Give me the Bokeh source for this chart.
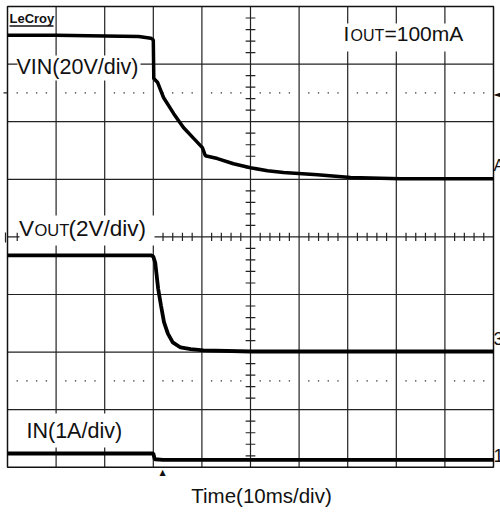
import numpy as np
from bokeh.plotting import figure
from bokeh.models import Range1d, Label
from bokeh.embed import file_html
from bokeh.resources import INLINE

# ---- data (x in divisions of 10 ms, y in divisions) ----
vin_x = [0, 1.0, 2.0, 2.7, 2.95, 3.0, 3.01, 3.09, 3.21, 3.42, 3.62, 3.83, 4.01, 4.07, 4.32, 4.65, 5.0, 5.35, 5.68, 6.38, 7.06, 8.09, 9.12, 10.0]
vin_y = [7.50, 7.50, 7.49, 7.48, 7.45, 7.42, 6.75, 6.68, 6.42, 6.14, 5.90, 5.71, 5.55, 5.41, 5.36, 5.27, 5.20, 5.15, 5.12, 5.08, 5.03, 5.01, 5.01, 5.01]

vout_x = [0, 1.5, 2.95, 3.0, 3.04, 3.10, 3.16, 3.22, 3.30, 3.40, 3.56, 3.77, 4.03, 5.0, 10.0]
vout_y = [3.68, 3.68, 3.68, 3.66, 3.55, 3.10, 2.80, 2.52, 2.32, 2.17, 2.08, 2.05, 2.03, 2.01, 2.01]

iin_x = [0, 1.5, 3.0, 3.03, 3.2, 6.0, 10.0]
iin_y = [0.24, 0.24, 0.24, 0.14, 0.13, 0.13, 0.13]

x_divs = list(range(11))
y_divs = list(range(9))
dotted_rows = [6.5, 1.5]

W, H = 500, 515
SX, SY = 48.6, 57.6          # pixels per division
OX, OY = 7.0, 6.0            # canvas position of the graticule's top-left corner

# reference pixel -> data helpers (for annotation placement)
def X(px):
    return (px - OX) / SX

def Y(py):
    return 8 - (py - OY) / SY

p = figure(width=W, height=H,
           x_range=Range1d(X(0), X(W)),
           y_range=Range1d(Y(H), Y(0)),
           output_backend="svg", toolbar_location=None,
           x_axis_location=None, y_axis_location=None,
           min_border_left=0, min_border_right=0, min_border_top=0, min_border_bottom=0)
p.grid.visible = False
p.outline_line_color = None
p.background_fill_color = "white"
p.border_fill_color = "white"

gc = "#222222"
# grid
inner_x = x_divs[1:-1]
inner_y = y_divs[1:-1]
p.segment(x0=inner_x, y0=[0] * len(inner_x), x1=inner_x, y1=[8] * len(inner_x), line_color=gc, line_width=1.2)
p.segment(x0=[0] * len(inner_y), y0=inner_y, x1=[10] * len(inner_y), y1=inner_y, line_color=gc, line_width=1.2)
p.quad(left=[x_divs[0]], right=[x_divs[-1]], bottom=[y_divs[0]], top=[y_divs[-1]],
       fill_color=None, line_color="#111111", line_width=1.5)

# centre-line minor ticks
ty = np.arange(0.2, 8.0, 0.2)
ty = ty[np.abs(ty - np.round(ty)) > 0.05]
p.segment(x0=5 - 0.1, y0=ty, x1=5 + 0.1, y1=ty, line_color=gc, line_width=1.2)
tx = np.arange(0.2, 10.0, 0.2)
tx = tx[np.abs(tx - np.round(tx)) > 0.05]
p.segment(x0=tx, y0=4 - 0.07, x1=tx, y1=4 + 0.07, line_color=gc, line_width=1.2)

# dotted rows
for r in dotted_rows:
    p.scatter(x=tx, y=[r] * len(tx), size=1.6, color="#555555", line_color=None)

# small marks left of the graticule
p.segment(x0=[X(3)], y0=[dotted_rows[0]], x1=[0], y1=[dotted_rows[0]], line_color=gc, line_width=1.2)
p.segment(x0=[X(5)], y0=[Y(232)], x1=[X(5)], y1=[Y(242)], line_color=gc, line_width=1.2)

# white label boxes
p.quad(left=[X(17), X(19), X(340), X(25)], right=[X(140), X(154), X(465), X(125)],
       top=[Y(55), Y(215), Y(23), Y(413)], bottom=[Y(80), Y(245), Y(51), Y(447)],
       fill_color="white", line_color=None)

# traces
p.line(vin_x, vin_y, line_color="black", line_width=3.5)
p.line(vout_x, vout_y, line_color="black", line_width=3.8)
p.line(iin_x, iin_y, line_color="black", line_width=3.8)

F = "Liberation Sans"

def lab(px, base_py, t, size, align="left", font=F, style="normal", color="#111111"):
    # base_py: baseline of the text in the reference picture
    p.add_layout(Label(x=X(px), y=Y(base_py - 0.37 * size), text=t, text_font=font,
                       text_font_size=f"{size}px", text_font_style=style, text_align=align,
                       text_baseline="alphabetic", text_color=color))

lab(16, 74, "VIN(20V/div)", 21.5)
lab(18.5, 236, "V", 22.5)
lab(34, 236, "OUT", 16.5)
lab(68, 236, "(2V/div)", 22.5)
lab(343, 41, "I", 21)
lab(350, 41, "OUT", 16)
lab(384, 41, "=100mA", 21)
lab(26, 438, "IN(1A/div)", 21.5)
lab(261, 503, "Time(10ms/div)", 20.5, align="center")
lab(9, 23, "LeCroy", 13, style="bold")
p.segment(x0=[X(9)], y0=[Y(25.5)], x1=[X(53)], y1=[Y(25.5)], line_color="#111111", line_width=1.5)

# channel markers at right edge and trigger marker
lab(493, 98, "◄", 12, font="DejaVu Sans")
lab(493, 171, "A", 17)
lab(493, 345, "3", 18)
lab(493, 462, "1", 18)
lab(162, 475, "▲", 8, align="center", font="DejaVu Sans")

open("out.html", "w").write(file_html(p, INLINE))
